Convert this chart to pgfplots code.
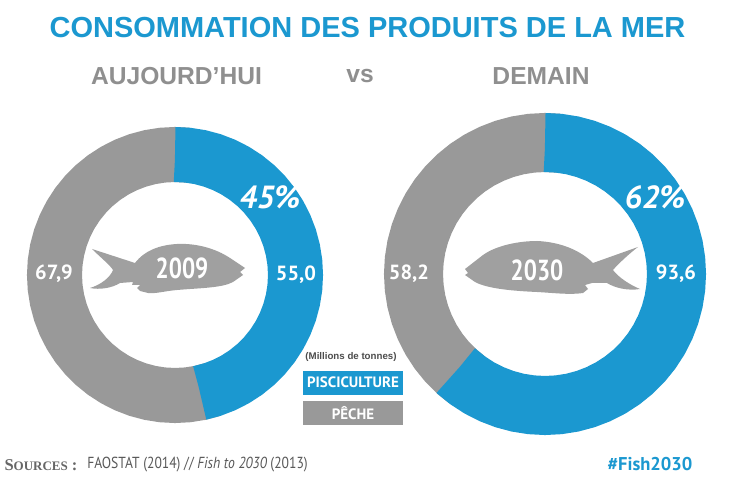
\documentclass[border=0pt]{standalone}
\usepackage{pgfplots}
\pgfplotsset{compat=1.18}
\usepgfplotslibrary{polar}
\usepackage{fontspec}
\setmainfont{Liberation Sans}
\newfontfamily\ops{PT Sans}
\newfontfamily\serf{Liberation Serif}
\definecolor{bl}{HTML}{1B98D0}
\definecolor{gr}{HTML}{999999}
\definecolor{fg}{HTML}{A0A0A0}
\definecolor{tg}{HTML}{8F8F8F}
\pgfplotsset{donut/.style={scale only axis,hide axis,clip=false,anchor=center,xmin=0,xmax=360,ymin=0}}
\newcommand{\T}[5]{\node[anchor=center,inner sep=0pt,text=#3,font=#4] at (#1pt,{490pt-#2pt}) {#5};}
\begin{document}
\begin{tikzpicture}[x=1pt,y=1pt]
\path[use as bounding box,fill=white] (0,0) rectangle (735,490);
\begin{polaraxis}[donut,at={(175pt,215pt)},width=296pt,height=296pt,ymax=148]
\addplot[gr,line width=55pt,no marks] coordinates {(288,120.5)(282,120.5)(276,120.5)(270,120.5)(264,120.5)(258,120.5)(252,120.5)(246,120.5)(240,120.5)(234,120.5)(228,120.5)(222,120.5)(216,120.5)(210,120.5)(204,120.5)(198,120.5)(192,120.5)(186,120.5)(180,120.5)(174,120.5)(168,120.5)(162,120.5)(156,120.5)(150,120.5)(144,120.5)(138,120.5)(132,120.5)(126,120.5)(120,120.5)(114,120.5)(108,120.5)(102,120.5)(96,120.5)(90,120.5)(84,120.5)};
\addplot[bl,line width=55pt,no marks] coordinates {(90,120.5)(89.9,120.5)(84,120.5)(78,120.5)(72,120.5)(66,120.5)(60,120.5)(54,120.5)(48,120.5)(42,120.5)(36,120.5)(30,120.5)(24,120.5)(18,120.5)(12,120.5)(6,120.5)(0,120.5)(-6,120.5)(-12,120.5)(-18,120.5)(-24,120.5)(-30,120.5)(-36,120.5)(-42,120.5)(-48,120.5)(-54,120.5)(-60,120.5)(-66,120.5)(-72,120.5)(-77.9,120.5)(-78,120.5)};
\end{polaraxis}
\begin{polaraxis}[donut,at={(545pt,216pt)},width=322pt,height=322pt,ymax=161]
\addplot[gr,line width=59pt,no marks] coordinates {(234,131.5)(228,131.5)(222,131.5)(216,131.5)(210,131.5)(204,131.5)(198,131.5)(192,131.5)(186,131.5)(180,131.5)(174,131.5)(168,131.5)(162,131.5)(156,131.5)(150,131.5)(144,131.5)(138,131.5)(132,131.5)(126,131.5)(120,131.5)(114,131.5)(108,131.5)(102,131.5)(96,131.5)(90,131.5)(84,131.5)};
\addplot[bl,line width=59pt,no marks] coordinates {(90,131.5)(89.9,131.5)(84,131.5)(78,131.5)(72,131.5)(66,131.5)(60,131.5)(54,131.5)(48,131.5)(42,131.5)(36,131.5)(30,131.5)(24,131.5)(18,131.5)(12,131.5)(6,131.5)(0,131.5)(-6,131.5)(-12,131.5)(-18,131.5)(-24,131.5)(-30,131.5)(-36,131.5)(-42,131.5)(-48,131.5)(-54,131.5)(-60,131.5)(-66,131.5)(-72,131.5)(-78,131.5)(-84,131.5)(-90,131.5)(-96,131.5)(-102,131.5)(-108,131.5)(-114,131.5)(-120,131.5)(-126,131.5)(-132.4,131.5)(-132.5,131.5)};
\end{polaraxis}
\begin{scope}[yshift=490pt,y=-1pt]
\fill[fg] (92,249) -- (135,263) .. controls (145,250) and (160,245) .. (177,244)
 .. controls (195,243) and (215,248) .. (230,258) -- (245,268) -- (240,272) -- (243,275)
 -- (233,282) .. controls (222,288) and (200,288) .. (177,290) .. controls (165,291) and (155,294) .. (148,293)
 -- (140,291) -- (137,288) -- (140,285) -- (132,285) -- (133,282) -- (120,283) .. controls (112,288) and (100,290) .. (90,288)
 .. controls (100,285) and (110,278) .. (113,270) .. controls (110,265) and (100,257) .. (92,249) -- cycle;
\fill[fg] (638,247) -- (593,263) .. controls (580,250) and (560,242) .. (537,241)
 .. controls (520,241) and (497,245) .. (483,255) -- (465,269) -- (468,273) -- (465,275)
 -- (475,282) .. controls (488,289) and (515,291) .. (537,292) .. controls (555,293) and (570,295) .. (583,293)
 -- (588,289) -- (585,285) -- (592,283) -- (607,283) .. controls (615,288) and (628,291) .. (640,289)
 .. controls (630,285) and (618,277) .. (613,270) .. controls (618,264) and (630,253) .. (638,247) -- cycle;
\fill[bl] (303,371) rectangle (403,395);
\fill[gr] (303,401) rectangle (403,425);
\end{scope}
\T{367.5}{28}{bl}{\bfseries\fontsize{29}{31}\selectfont}{CONSOMMATION DES PRODUITS DE LA MER}
\T{176.5}{76}{tg}{\bfseries\fontsize{24.6}{28}\selectfont}{AUJOURD’HUI}
\T{360}{76}{tg}{\bfseries\fontsize{24.6}{28}\selectfont}{vs}
\T{541}{76}{tg}{\bfseries\fontsize{24.6}{28}\selectfont}{DEMAIN}
\T{270}{197}{white}{\ops\bfseries\itshape\fontsize{32}{34}\selectfont}{45\%}
\T{655}{197}{white}{\ops\bfseries\itshape\fontsize{32}{34}\selectfont}{62\%}
\T{296}{275}{white}{\ops\bfseries\fontsize{20.5}{22}\selectfont}{55,0}
\T{54}{274}{white}{\ops\bfseries\fontsize{20.5}{22}\selectfont}{67,9}
\T{409}{274}{white}{\ops\bfseries\fontsize{20.5}{22}\selectfont}{58,2}
\T{676}{274}{white}{\ops\bfseries\fontsize{20.5}{22}\selectfont}{93,6}
\T{182}{268}{white}{\ops\bfseries\fontsize{29}{30}\selectfont}{\scalebox{.8}[1]{2009}}
\T{537}{270}{white}{\ops\bfseries\fontsize{29}{30}\selectfont}{\scalebox{.8}[1]{2030}}
\T{351}{357}{black!70}{\bfseries\fontsize{9.7}{11}\selectfont}{(Millions de tonnes)}
\T{353}{382}{white}{\ops\bfseries\fontsize{15}{16}\selectfont}{PISCICULTURE}
\T{353}{413}{white}{\ops\bfseries\fontsize{15}{16}\selectfont}{PÊCHE}
\T{41}{465}{black!60}{\serf\bfseries\fontsize{16.5}{18}\selectfont}{S{\fontsize{13}{15}\selectfont OURCES}~:}
\T{197.5}{465}{black!65}{\ops\fontsize{16}{18}\selectfont}{\scalebox{.85}[1]{FAOSTAT (2014) // {\itshape Fish to 2030} (2013)}}
\T{650}{464}{bl}{\ops\bfseries\fontsize{18.5}{20}\selectfont}{\#Fish2030}
\end{tikzpicture}
\end{document}
